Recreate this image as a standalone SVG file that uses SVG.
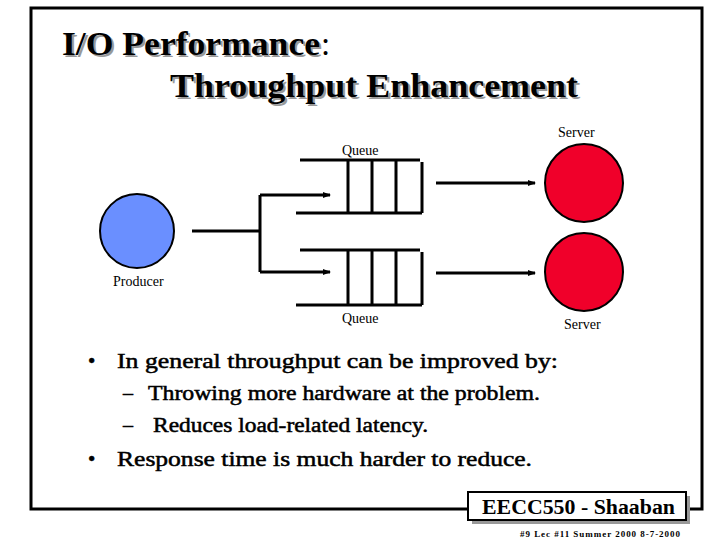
<svg xmlns="http://www.w3.org/2000/svg" width="720" height="540" viewBox="0 0 720 540">
<style>
.t{font-family:"Liberation Serif",serif;fill:#000}
.b{font-weight:bold}
.ln{stroke:#000;stroke-width:3;fill:none}
.q{stroke:#000;stroke-width:3;fill:none}
</style>
<defs><marker id="a" markerWidth="8" markerHeight="8" refX="7" refY="4" orient="auto" markerUnits="userSpaceOnUse"><path d="M0,1 L8,4 L0,7Z" fill="#000"/></marker></defs>
<rect width="720" height="540" fill="#fff"/>
<rect x="31" y="8" width="671" height="501" fill="none" stroke="#000" stroke-width="3"/>
<g id="title" class="t b" font-size="33">
<text x="62" y="55" style="text-shadow:2px 2px 0 #999" textLength="258" lengthAdjust="spacingAndGlyphs">I/O Performance</text>
<text x="321" y="55" style="font-weight:normal">:</text>
<text x="170" y="97" style="text-shadow:2px 2px 0 #999" textLength="408" lengthAdjust="spacingAndGlyphs">Throughput Enhancement</text>
</g>
<g id="connectors" class="ln">
<path d="M192,231 H260 M260,195 V272"/>
<path d="M260,195 H330" marker-end="url(#a)"/>
<path d="M260,272 H330" marker-end="url(#a)"/>
<path d="M436,183 H535" marker-end="url(#a)"/>
<path d="M436,273 H535" marker-end="url(#a)"/>
</g>
<g id="producer"><circle cx="137" cy="231" r="37" fill="#6a8fff" stroke="#000" stroke-width="2"/><text class="t" x="113" y="286" font-size="14">Producer</text></g>
<g id="queue1" class="q"><path d="M300,160 H420 M296,213 H422 M348,160 V213 M372,160 V213 M396,160 V213 M422,162 V213"/><text class="t" x="342" y="155" font-size="14" stroke="none">Queue</text></g>
<g id="queue2" class="q"><path d="M300,250 H420 M296,305 H422 M348,250 V305 M372,250 V305 M396,250 V305 M422,252 V305"/><text class="t" x="342" y="323" font-size="14" stroke="none">Queue</text></g>
<g id="server1"><circle cx="584" cy="183" r="39" fill="#f0002a" stroke="#000" stroke-width="2"/><text class="t" x="558" y="137" font-size="14">Server</text></g>
<g id="server2"><circle cx="584" cy="272" r="39" fill="#f0002a" stroke="#000" stroke-width="2"/><text class="t" x="564" y="329" font-size="14">Server</text></g>
<g id="bullets" class="t" style="stroke:#000;stroke-width:0.5">
<text x="88" y="368" font-size="21">•</text>
<text x="117" y="368" font-size="21" textLength="441" lengthAdjust="spacingAndGlyphs">In general throughput can be improved by:</text>
<text x="123" y="400" font-size="20">–</text>
<text x="148" y="400" font-size="20" textLength="392" lengthAdjust="spacingAndGlyphs">Throwing more hardware at the problem.</text>
<text x="123" y="432" font-size="20">–</text>
<text x="153" y="432" font-size="20" textLength="275" lengthAdjust="spacingAndGlyphs">Reduces load-related latency.</text>
<text x="88" y="466" font-size="21">•</text>
<text x="117" y="466" font-size="21" textLength="415" lengthAdjust="spacingAndGlyphs">Response time is much harder to reduce.</text>
</g>
<g id="footer">
<rect x="472" y="496" width="218" height="28" fill="#999"/>
<rect x="468" y="492" width="218" height="28" fill="#fff" stroke="#000" stroke-width="2"/>
<text class="t b" x="482" y="514" font-size="20" textLength="193" lengthAdjust="spacingAndGlyphs">EECC550 - Shaaban</text>
<text class="t b" x="520" y="537" font-size="9" textLength="160" lengthAdjust="spacing">#9   Lec #11   Summer 2000   8-7-2000</text>
</g>
</svg>
